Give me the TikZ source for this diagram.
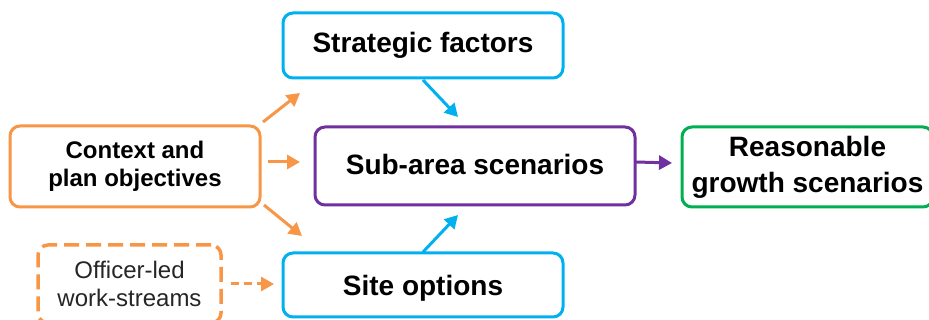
\documentclass[tikz,border=0pt]{standalone}
\usepackage{fontspec}
\setmainfont{Liberation Sans}
\usetikzlibrary{arrows.meta}
\definecolor{cOrange}{HTML}{F79646}
\definecolor{cBlue}{HTML}{00B0F0}
\definecolor{cPurple}{HTML}{7030A0}
\definecolor{cGreen}{HTML}{00B050}
\definecolor{cText}{HTML}{262626}
\begin{document}
\begin{tikzpicture}[x=1pt,y=-1pt,
  box/.style={line width=3pt, rounded corners=10pt, outer sep=0pt, align=center, inner sep=0pt, fill=white, text=black},
  big/.style={font=\fontsize{28}{28}\selectfont\bfseries},
  mid/.style={font=\fontsize{24}{28}\selectfont\bfseries},
  small/.style={font=\fontsize{24}{28}\selectfont},
  arr/.style={line width=3pt, -{Triangle[length=13pt,width=14pt]}},
]
\clip (0,0) rectangle (929,320);
\fill[white] (0,0) rectangle (929,320);
\node[box, draw=cBlue, big, minimum width=280pt, minimum height=65pt] (strat) at (423,45.5) {Strategic factors};
\node[box, draw=cPurple, big, text depth=4pt, minimum width=320pt, minimum height=78pt] (sub) at (475,166) {Sub-area scenarios};
\node[box, draw=cOrange, mid, minimum width=250pt, minimum height=81pt] (ctx) at (135,166.5) {Context and\\plan objectives};
\node[box, draw=cBlue, big, text depth=0pt, minimum width=280pt, minimum height=64pt] (site) at (423,285) {Site options};
\node[box, draw=cOrange, line width=3.5pt, dash pattern=on 15pt off 7pt, small, text=cText, minimum width=183pt, minimum height=78pt] (off) at (129.5,284) {Officer-led\\work-streams};
\node[box, draw=cGreen, font=\fontsize{28}{36}\selectfont\bfseries, minimum width=251pt, minimum height=80pt] (reas) at (807.5,167) {Reasonable\\growth scenarios};

\draw[arr, cOrange] ([shift={(3,-4)}]ctx.north east) -- ([shift={(17,15)}]strat.south west);
\draw[arr, cOrange] ([shift={(8,-4.5)}]ctx.east) -- ([shift={(-15,-4)}]sub.west);
\draw[arr, cOrange] ([shift={(4,-2)}]ctx.south east) -- ([shift={(19,-17)}]site.north west);
\draw[arr, cOrange, dash pattern=on 8pt off 5pt] ([shift={(10,0)}]off.east) -- ([shift={(-9,-1)}]site.west);
\draw[arr, cBlue] ([shift={(0,2)}]strat.south) -- ([shift={(-17,-10)}]sub.north);
\draw[arr, cBlue] ([shift={(0,-1)}]site.north) -- ([shift={(-17,10)}]sub.south);
\draw[arr, cPurple] ([shift={(1,-4)}]sub.east) -- ([shift={(-10,-4)}]reas.west);
\end{tikzpicture}
\end{document}
